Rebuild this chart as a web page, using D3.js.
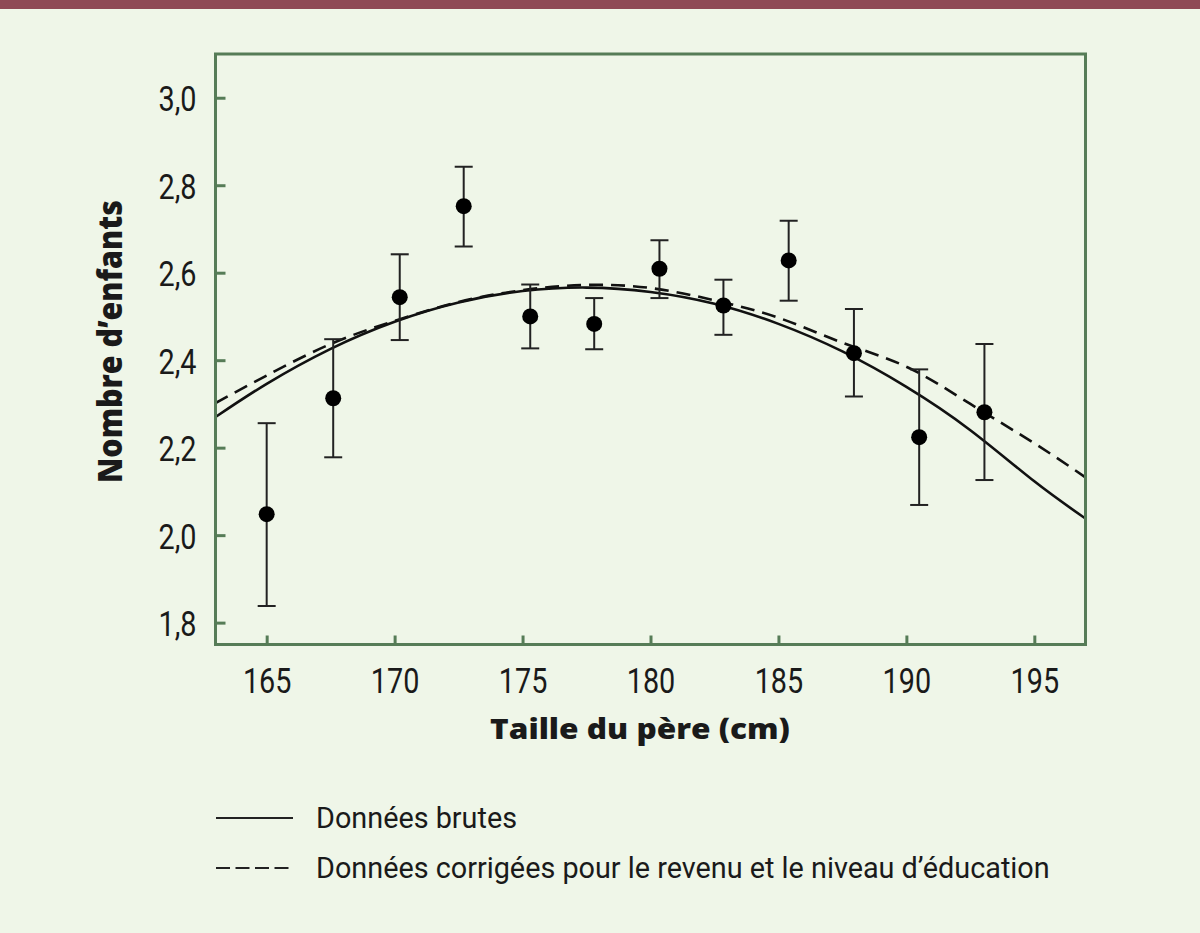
<!DOCTYPE html>
<html>
<head>
<meta charset="utf-8">
<script src="https://cdn.jsdelivr.net/npm/d3@7"></script>
<style>
  html, body { margin: 0; padding: 0; background: #eff6e8; }
  svg { display: block; }
</style>
</head>
<body>
<svg id="chart" width="1200" height="933"></svg>
<script>
// ---- data ----
const heights   = [165.0, 167.6, 170.2, 172.7, 175.3, 177.8, 180.35, 182.85, 185.4, 187.95, 190.5, 193.05];
const children  = [2.048, 2.313, 2.544, 2.752, 2.500, 2.483, 2.609, 2.525, 2.628, 2.416, 2.224, 2.281];
const errLow    = [1.838, 2.178, 2.446, 2.660, 2.427, 2.425, 2.542, 2.458, 2.536, 2.317, 2.069, 2.126];
const errHigh   = [2.256, 2.448, 2.642, 2.842, 2.573, 2.542, 2.674, 2.584, 2.719, 2.517, 2.379, 2.437];

const curveX     = [163, 165, 167.5, 170, 172.5, 175, 177.5, 180, 182.5, 185, 187.5, 190, 192.5, 195, 197];
const rawCurve   = [2.270, 2.346, 2.426, 2.488, 2.532, 2.558, 2.566, 2.556, 2.529, 2.483, 2.420, 2.339, 2.240, 2.123, 2.038];
const adjCurve   = [2.302, 2.365, 2.437, 2.490, 2.533, 2.560, 2.572, 2.565, 2.537, 2.497, 2.440, 2.385, 2.300, 2.210, 2.132];

const xTicks = [165, 170, 175, 180, 185, 190, 195];
const yTicks = [1.8, 2.0, 2.2, 2.4, 2.6, 2.8, 3.0];

const xTitle = "Taille du père (cm)";
const yTitle = "Nombre d’enfants";
const legendLabels = ["Données brutes", "Données corrigées pour le revenu et le niveau d’éducation"];

// ---- layout ----
const svg = d3.select("#chart");
const W = 1200, H = 933;
const plot = { left: 215.5, right: 1085.5, top: 54, bottom: 644.5 };
const green = "#567c57";
const ink = "#1a1a1a";
const tickFont = "Roboto, 'DejaVu Sans', sans-serif";
const titleFont = "'Open Sans', 'DejaVu Sans', sans-serif";
const tickScaleX = 0.8;

svg.append("rect").attr("width", W).attr("height", H).attr("fill", "#eff6e8");
svg.append("rect").attr("x", 0).attr("y", 0).attr("width", W).attr("height", 9).attr("fill", "#8f4955");

const x = d3.scaleLinear().domain([163, 197]).range([plot.left, plot.right]);
const y = d3.scaleLinear().domain([1.75, 3.1]).range([plot.bottom, plot.top]);

const fmt = d => d3.format(".1f")(d).replace(".", ",");

// axes (ticks inward)
const xAxis = d3.axisBottom(x).tickValues(xTicks).tickSize(-9).tickPadding(23).tickFormat(d3.format("d"));
const yAxis = d3.axisLeft(y).tickValues(yTicks).tickSize(-10).tickPadding(19).tickFormat(fmt);

const gx = svg.append("g").attr("transform", `translate(0,${plot.bottom})`).call(xAxis);
const gy = svg.append("g").attr("transform", `translate(${plot.left},0)`).call(yAxis);
[gx, gy].forEach(g => {
  g.select(".domain").remove();
  g.selectAll(".tick line").attr("stroke", green).attr("stroke-width", 3);
  g.selectAll(".tick text").attr("fill", ink).attr("font-family", tickFont)
    .attr("font-size", 36).attr("font-weight", 400);
});
gx.selectAll(".tick text").attr("dy", "0.71em").attr("transform", `scale(${tickScaleX},1)`);
gy.selectAll(".tick text").attr("dy", "0.36em").each(function () {
  const t = d3.select(this);
  const tx = +t.attr("x");
  t.attr("x", 0).attr("transform", `translate(${tx},0) scale(${tickScaleX},1)`);
});

// frame
svg.append("rect")
  .attr("x", plot.left).attr("y", plot.top)
  .attr("width", plot.right - plot.left).attr("height", plot.bottom - plot.top)
  .attr("fill", "none").attr("stroke", green).attr("stroke-width", 3);

// clip
svg.append("clipPath").attr("id", "clip").append("rect")
  .attr("x", plot.left + 1.5).attr("y", plot.top + 1.5)
  .attr("width", plot.right - plot.left - 3).attr("height", plot.bottom - plot.top - 3);

const gPlot = svg.append("g").attr("clip-path", "url(#clip)");

const line = d3.line().x(d => x(d[0])).y(d => y(d[1])).curve(d3.curveNatural);
gPlot.append("path").datum(curveX.map((cx, i) => [cx, rawCurve[i]]))
  .attr("d", line).attr("fill", "none").attr("stroke", "#111").attr("stroke-width", 2.6);
gPlot.append("path").datum(curveX.map((cx, i) => [cx, adjCurve[i]]))
  .attr("d", line).attr("fill", "none").attr("stroke", "#111").attr("stroke-width", 2.6)
  .attr("stroke-dasharray", "14,8");

// error bars
const pts = heights.map((h, i) => ({ h, v: children[i], lo: errLow[i], hi: errHigh[i] }));
const eb = gPlot.append("g").attr("stroke", "#222").attr("stroke-width", 2);
const capW = 9;
pts.forEach(p => {
  eb.append("line").attr("x1", x(p.h)).attr("x2", x(p.h)).attr("y1", y(p.lo)).attr("y2", y(p.hi));
  eb.append("line").attr("x1", x(p.h) - capW).attr("x2", x(p.h) + capW).attr("y1", y(p.lo)).attr("y2", y(p.lo));
  eb.append("line").attr("x1", x(p.h) - capW).attr("x2", x(p.h) + capW).attr("y1", y(p.hi)).attr("y2", y(p.hi));
});
gPlot.append("g").selectAll("circle").data(pts).join("circle")
  .attr("cx", d => x(d.h)).attr("cy", d => y(d.v)).attr("r", 8).attr("fill", "#000");

// fit text horizontally (along its own baseline) to a target length
function fitLength(sel, target) {
  const len = sel.node().getComputedTextLength();
  return target / len;
}

// titles
const xt = svg.append("text").attr("text-anchor", "middle").attr("font-family", titleFont)
  .attr("font-weight", 800).attr("font-size", 28).attr("fill", ink).text(xTitle);
const sx = fitLength(xt, 300);
xt.attr("transform", `translate(640,739) scale(${sx},1)`);

const yt = svg.append("text").attr("text-anchor", "middle").attr("font-family", titleFont)
  .attr("font-weight", 800).attr("font-size", 34).attr("fill", ink).text(yTitle);
const sy = fitLength(yt, 283);
yt.attr("transform", `translate(122,341.5) rotate(-90) scale(${sy},1)`);

// legend
const leg = svg.append("g");
const legY = [818, 868];
leg.append("line").attr("x1", 216).attr("x2", 293).attr("y1", legY[0]).attr("y2", legY[0])
  .attr("stroke", "#222").attr("stroke-width", 2);
leg.append("line").attr("x1", 216).attr("x2", 293).attr("y1", legY[1]).attr("y2", legY[1])
  .attr("stroke", "#222").attr("stroke-width", 2).attr("stroke-dasharray", "14,5.5");
legendLabels.forEach((t, i) => {
  leg.append("text").attr("x", 316).attr("y", legY[i]).attr("dy", "0.36em")
    .attr("font-family", tickFont).attr("font-weight", 400)
    .attr("font-size", 28.8).attr("fill", ink).text(t);
});
</script>
</body>
</html>
